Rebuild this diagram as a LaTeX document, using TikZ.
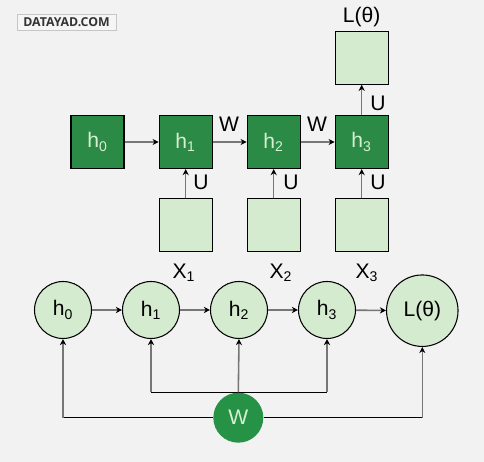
\documentclass[tikz,border=0pt]{standalone}
\usepackage{fontspec}
\setmainfont{Liberation Sans}
\newfontfamily\logofont{Open Sans}
\usetikzlibrary{arrows.meta}

\definecolor{bggray}{HTML}{F2F2F2}
\definecolor{dgreen}{HTML}{2B8A45}
\definecolor{wgreen}{HTML}{269245}
\definecolor{lgreen}{HTML}{D5EBCF}
\definecolor{htext}{HTML}{D8F0D2}
\definecolor{shaft}{HTML}{767676}

\tikzset{
  hbox/.style={draw=black,line width=0.6pt,fill=dgreen,text=htext,minimum size=1.06cm,inner sep=0pt,font=\fontsize{12}{14}\selectfont},
  inbox/.style={draw=black,line width=0.6pt,fill=lgreen,minimum size=1.06cm,inner sep=0pt},
  hcirc/.style={circle,draw=black,line width=0.6pt,fill=lgreen,minimum size=1.14cm,inner sep=0pt,font=\fontsize{12}{14}\selectfont},
  arr/.style={shaft,line width=0.9pt,-{Stealth[black,length=3.5pt,width=3.5pt]}},
  bus/.style={black,line width=0.8pt},
  lbl/.style={inner sep=0pt,font=\fontsize{12}{14}\selectfont}
}

\begin{document}
\begin{tikzpicture}[x=0.02cm,y=-0.02cm]
  \fill[bggray] (0,0) rectangle (484,462);
  \useasboundingbox (0,0) rectangle (484,462);

  % watermark
  \node[draw=gray!45,fill=gray!8,text=black!80,minimum width=1.98cm,minimum height=0.32cm,inner sep=0pt,
        font=\logofont\fontsize{7}{8}\bfseries\selectfont] (logo) at (66.5,22) {DATAYAD.COM};

  % unrolled network
  \node[hbox] (h0) at (97.5,142) {h\textsubscript{0}};
  \node[hbox] (h1) at (185.7,142) {h\textsubscript{1}};
  \node[hbox] (h2) at (273.7,142) {h\textsubscript{2}};
  \node[hbox] (h3) at (361.7,142) {h\textsubscript{3}};
  \node[inbox] (x1) at (185.7,224.7) {};
  \node[inbox] (x2) at (273.7,224.7) {};
  \node[inbox] (x3) at (361.7,224.7) {};
  \node[inbox] (loss) at (361.7,57.8) {};

  \draw[arr] (h0.east) -- (h1.west);
  \draw[arr] (h1.east) -- (h2.west);
  \draw[arr] (h2.east) -- (h3.west);
  \draw[arr] (x1.north) -- (h1.south);
  \draw[arr] (x2.north) -- (h2.south);
  \draw[arr] (x3.north) -- (h3.south);
  \draw[arr] (h3.north) -- (loss.south);

  \node[lbl] (lw1) at (229,124) {W};
  \node[lbl] (lw2) at (317,124) {W};
  \node[lbl] (lu1) at (201,182) {U};
  \node[lbl] (lu2) at (291,182) {U};
  \node[lbl] (lu3) at (378,182) {U};
  \node[lbl] (lu4) at (378,103) {U};
  \node[lbl] (ll) at (361.7,17) {L(θ)};
  \node[lbl] (lx1) at (184,273) {X\textsubscript{1}};
  \node[lbl] (lx2) at (281,273) {X\textsubscript{2}};
  \node[lbl] (lx3) at (367,273) {X\textsubscript{3}};

  % computational graph
  \node[hcirc] (c0) at (63,310) {h\textsubscript{0}};
  \node[hcirc] (c1) at (151,310) {h\textsubscript{1}};
  \node[hcirc] (c2) at (239,310) {h\textsubscript{2}};
  \node[hcirc] (c3) at (327,310) {h\textsubscript{3}};
  \node[hcirc,minimum size=1.43cm] (cl) at (422.3,310.7) {L(θ)};
  \node[circle,fill=wgreen,text=htext,minimum size=1.0cm,inner sep=0pt,font=\fontsize{12}{14}\selectfont] (w) at (238.3,417.7) {W};

  \draw[arr] (c0) -- (c1);
  \draw[arr] (c1) -- (c2);
  \draw[arr] (c2) -- (c3);
  \draw[arr] (c3) -- (cl);

  \draw[bus] (c1.south |- w.north) -- (c3.south |- w.north);
  \draw[bus] (c0.south |- w) -- (w.west);
  \draw[bus] (w.east) -- (cl.south |- w);
  \draw[arr] (c1.south |- w.north) -- (c1.south);
  \draw[arr] (w.north) -- (c2.south);
  \draw[arr] (c3.south |- w.north) -- (c3.south);
  \draw[arr] (c0.south |- w) -- (c0.south);
  \draw[arr] (cl.south |- w) -- (cl.south);
\end{tikzpicture}
\end{document}
